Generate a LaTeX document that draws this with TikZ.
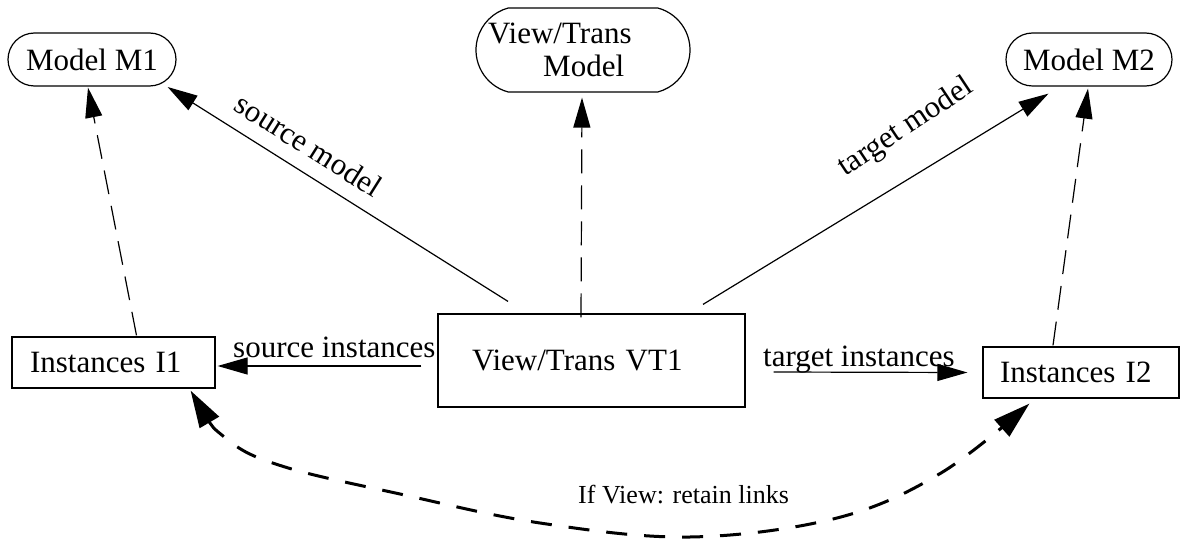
\documentclass[tikz,border=0pt]{standalone}
\usepackage{fontspec}
\setmainfont{Liberation Serif}
\usetikzlibrary{arrows.meta,shapes.misc,calc}
\begin{document}
\begin{tikzpicture}[x=1pt,y=-1pt,
  every node/.style={font=\fontsize{31}{33}\selectfont},
  box/.style={draw, line width=1.2pt, inner ysep=0pt, align=left},
  rbox/.style={draw, line width=1.2pt, rounded rectangle, inner sep=0pt},
  solidarr/.style={line width=1.2pt, -{Triangle[length=30pt,width=17pt]}},
  dasharr/.style={solidarr, dash pattern=on 24pt off 12pt},
  linkarr/.style={line width=3pt, dash pattern=on 21pt off 17pt,
    {Triangle[length=37pt,width=22pt]}-{Triangle[length=37pt,width=22pt]}},
  lab/.style={inner sep=0pt}
]
\useasboundingbox (0,0) rectangle (1180,540);

% boxes
\node[rbox, minimum width=168pt, minimum height=53pt] (m1) at (92,59.5) {Model M1};
\node[rbox, minimum width=166pt, minimum height=53pt] (m2) at (1089,59.5) {Model M2};
\node[rbox, rounded rectangle arc length=150, minimum width=214pt, minimum height=84pt] (vtm) at (583,50) {};
\node[lab, align=left, anchor=north west] (vtmtext) at (488,23) {View/Trans\\\hspace*{55pt}Model};

\node[box, inner xsep=18pt, text width=167pt, minimum height=51pt] (i1) at (113.5,362.5) {Instances I1};
\node[box, inner xsep=34pt, text width=239pt, minimum height=93pt] (vt1) at (591.5,360.5) {View/Trans VT1};
\node[box, inner xsep=17pt, text width=162pt, minimum height=51pt] (i2) at (1081,372.5) {Instances I2};

% connector end points
\coordinate (smS) at ($(vt1.north)+(-83.5,-12)$);
\coordinate (smE) at ($(m1.east)+(-9,27.5)$);
\coordinate (tmS) at ($(vt1.north)+(111.5,-9)$);
\coordinate (tmE) at ($(m2.south west)+(16,7)$);
\coordinate (vS) at ($(vt1.north)+(-10.5,4)$);
\coordinate (vE) at ($(vtm.south)+(-1,5)$);
\coordinate (siS) at ($(vt1.west)+(-16,5.5)$);
\coordinate (siE) at ($(i1.east)+(2,3.5)$);
\coordinate (tiS) at ($(vt1.east)+(28,11.5)$);
\coordinate (tiE) at ($(i2.west)+(-15,0)$);
\coordinate (d1S) at ($(i1.north)+(23,-1)$);
\coordinate (d1E) at ($(m1.south)+(-4,1)$);
\coordinate (d2S) at ($(i2.north)+(-28,-1)$);
\coordinate (d2E) at ($(m2.south)+(-1,2)$);
\coordinate (lkA) at ($(i1.south east)+(-25,2)$);
\coordinate (lkB) at ($(i2.south west)+(47,5)$);

% connectors
\draw[solidarr] (smS) -- (smE);
\draw[solidarr] (tmS) -- (tmE);
\draw[dasharr] (vS) -- (vE);
\draw[dasharr] (d1S) -- (d1E);
\draw[dasharr] (d2S) -- (d2E);
\draw[solidarr] (siS) -- (siE);
\draw[solidarr] (tiS) -- (tiE);
\draw[linkarr] plot[smooth, tension=0.6] coordinates {(lkA) (228,440) (285,467) (400,494) (540,523) (690,537) (837,518) (941,473) (lkB)};

% labels
\node[lab, rotate=-32.2, anchor=base] (lsm) at (303,154) {source model};
\node[lab, rotate=33.6, anchor=base] (ltm) at (910,134) {target model};
\node[lab, anchor=base west] (lsi) at (233,357) {source instances};
\node[lab, anchor=base west] (lti) at (763,366) {target instances};
\node[lab, anchor=base west, font=\fontsize{26}{28}\selectfont] (llk) at (578,503) {If View: retain links};
\end{tikzpicture}
\end{document}
